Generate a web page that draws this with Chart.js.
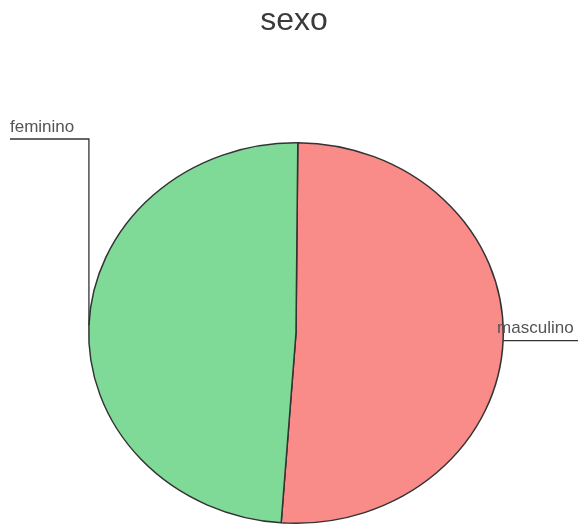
<!DOCTYPE html>
<html>
<head>
<meta charset="utf-8">
<script src="https://cdn.jsdelivr.net/npm/chart.js@4/dist/chart.umd.min.js"></script>
<style>
  html, body { margin: 0; padding: 0; background: #ffffff; overflow: hidden; width: 578px; height: 526px; }
  canvas { display: block; }
</style>
</head>
<body>
<canvas id="c" width="578" height="560"></canvas>
<script>
const titleText = 'sexo';
const categories = ['masculino', 'feminino'];
const values = [51, 49];
const sliceColors = ['#f98b89', '#7fda98'];

const Y_SCALE = 0.918;

const ellipsePlugin = {
  id: 'ellipse',
  beforeDatasetsDraw(chart) {
    const arc = chart.getDatasetMeta(0).data[0];
    const ctx = chart.ctx;
    ctx.save();
    ctx.translate(arc.x, arc.y);
    ctx.scale(1, Y_SCALE);
    ctx.translate(-arc.x, -arc.y);
  },
  afterDatasetsDraw(chart) {
    chart.ctx.restore();
  }
};

const labelPlugin = {
  id: 'labels',
  afterDraw(chart) {
    const ctx = chart.ctx;
    const meta = chart.getDatasetMeta(0);
    ctx.save();
    // title
    ctx.fillStyle = '#3a3a3a';
    ctx.font = '32px "Liberation Sans", Arial, sans-serif';
    ctx.textAlign = 'center';
    ctx.textBaseline = 'alphabetic';
    ctx.fillText(titleText, 294, 30);

    ctx.font = '17px "Liberation Sans", Arial, sans-serif';
    ctx.textAlign = 'left';
    ctx.strokeStyle = '#333333';
    ctx.lineWidth = 1.3;
    meta.data.forEach((arc, i) => {
      const mid = (arc.startAngle + arc.endAngle) / 2;
      const px = arc.x + arc.outerRadius * Math.cos(mid);
      const py = arc.y + arc.outerRadius * Y_SCALE * Math.sin(mid);
      ctx.beginPath();
      ctx.fillStyle = '#555555';
      if (Math.cos(mid) >= 0) {
        ctx.moveTo(px, py);
        ctx.lineTo(578, py);
        ctx.stroke();
        ctx.fillText(categories[i], px - 6, py - 8);
      } else {
        const ly = 139;
        ctx.moveTo(px, py);
        ctx.lineTo(px, ly);
        ctx.lineTo(10, ly);
        ctx.stroke();
        ctx.fillText(categories[i], 10, ly - 7);
      }
    });
    ctx.restore();
  }
};

new Chart(document.getElementById('c'), {
  type: 'pie',
  data: {
    labels: categories,
    datasets: [{
      data: values,
      backgroundColor: sliceColors,
      borderColor: '#333333',
      borderWidth: 1.5,
      borderAlign: 'center'
    }]
  },
  options: {
    responsive: false,
    animation: false,
    rotation: 0.5,
    layout: { padding: { left: 88, right: 74, top: 125, bottom: 19 } },
    plugins: {
      legend: { display: false },
      tooltip: { enabled: false },
      title: { display: false }
    }
  },
  plugins: [ellipsePlugin, labelPlugin]
});
</script>
</body>
</html>
